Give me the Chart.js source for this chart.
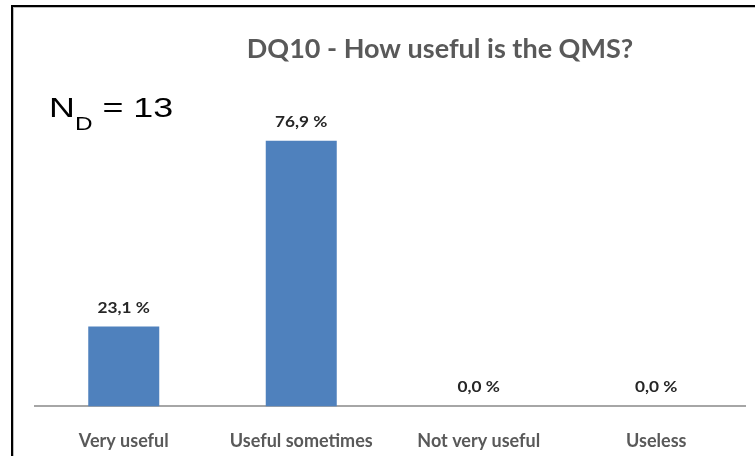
<!DOCTYPE html>
<html>
<head>
<meta charset="utf-8">
<script src="https://cdn.jsdelivr.net/npm/chart.js@4/dist/chart.umd.min.js"></script>
<style>
html,body{margin:0;padding:0;background:#fff;}
#wrap{position:relative;width:755px;height:456px;}
</style>
</head>
<body>
<div id="wrap"><canvas id="c" width="755" height="456"></canvas></div>
<script>
const categories = ["Very useful", "Useful sometimes", "Not very useful", "Useless"];
const values = [23.1, 76.9, 0.0, 0.0];
const titleText = "DQ10 - How useful is the QMS?";
const nLabel = "N";
const nSub = "D";
const nValue = " = 13";

function stretchText(ctx, text, x, y, sx) {
  ctx.save();
  ctx.translate(x, y);
  ctx.scale(sx, 1);
  ctx.fillText(text, 0, 0);
  ctx.restore();
  return ctx.measureText(text).width * sx;
}

const frame = {
  id: 'frame',
  beforeDraw(chart) {
    const ctx = chart.ctx;
    ctx.save();
    ctx.fillStyle = '#fff';
    ctx.fillRect(0, 0, chart.width, chart.height);
    ctx.fillStyle = '#000';
    ctx.fillRect(11, 5, chart.width - 11, 2);
    ctx.fillRect(11, 5, 2, chart.height - 5);
    ctx.fillStyle = '#bdbdbd';
    ctx.fillRect(13, 7, chart.width - 13, 1);
    ctx.fillRect(13, 7, 1, chart.height - 7);
    ctx.restore();
  },
  afterDraw(chart) {
    const ctx = chart.ctx;
    ctx.save();
    // title
    ctx.fillStyle = '#595959';
    ctx.font = 'bold 27px Lato';
    ctx.textAlign = 'center';
    ctx.textBaseline = 'alphabetic';
    ctx.fillText(titleText, 440, 58);
    // N_D = 13
    ctx.fillStyle = '#000';
    ctx.textAlign = 'left';
    const sx = 1.28;
    let x = 49;
    ctx.font = '28px "Liberation Sans"';
    x += stretchText(ctx, nLabel, x, 117, sx);
    ctx.font = '19px "Liberation Sans"';
    x += stretchText(ctx, nSub, x, 130, sx);
    ctx.font = '28px "Liberation Sans"';
    stretchText(ctx, nValue, x, 117, sx);
    // data labels
    const meta = chart.getDatasetMeta(0);
    ctx.fillStyle = '#262626';
    ctx.font = 'bold 15px Lato';
    ctx.textAlign = 'center';
    meta.data.forEach((bar, i) => {
      const v = chart.data.datasets[0].data[i];
      stretchText(ctx, v.toFixed(1).replace('.', ',') + ' %', bar.x, bar.y - 14, 1.15);
    });
    ctx.restore();
  }
};

new Chart(document.getElementById('c'), {
  type: 'bar',
  data: {
    labels: categories,
    datasets: [{
      data: values,
      backgroundColor: '#4F81BD',
      borderWidth: 0,
      barPercentage: 0.4,
      categoryPercentage: 1.0
    }]
  },
  options: {
    responsive: false,
    animation: false,
    devicePixelRatio: 1,
    layout: { padding: { left: 35, right: 10, top: 61, bottom: -20 } },
    plugins: { legend: { display: false }, title: { display: false }, tooltip: { enabled: false } },
    scales: {
      y: { display: false, min: 0, max: 100 },
      x: {
        grid: { display: false, drawTicks: false },
        border: { display: true, color: '#a6a6a6', width: 2 },
        ticks: { color: '#595959', font: { family: 'Lato', size: 18, weight: 'bold' }, padding: 24 }
      }
    }
  },
  plugins: [frame]
});
</script>
</body>
</html>
